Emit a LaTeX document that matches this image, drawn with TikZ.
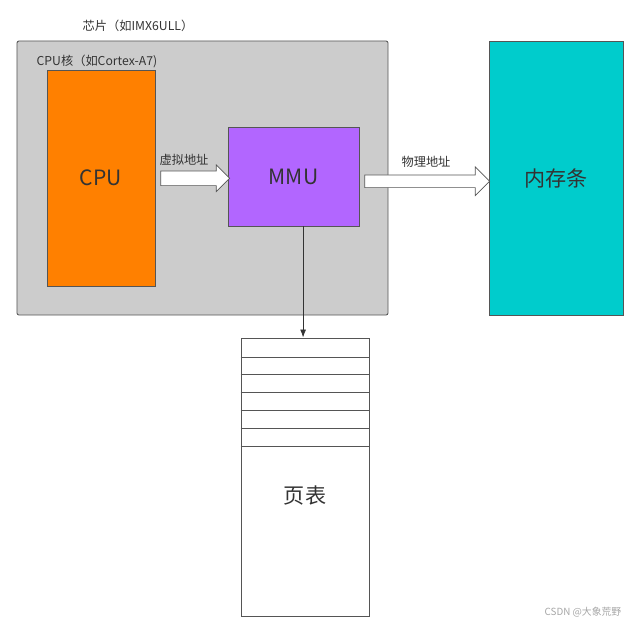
\documentclass[tikz,border=0pt]{standalone}
\usepackage{fontspec}
\setmainfont{Noto Sans CJK SC}
\usepackage{tikz}
\usetikzlibrary{arrows.meta,shapes.arrows,calc}
\usepackage{xcolor}
\definecolor{chipgray}{HTML}{CCCCCC}
\definecolor{cpuorange}{HTML}{FF8000}
\definecolor{mmupurple}{HTML}{B266FF}
\definecolor{memteal}{HTML}{00CCCC}
\definecolor{edgegray}{HTML}{555555}
\definecolor{textgray}{HTML}{333333}

\begin{document}
\begin{tikzpicture}[x=0.025cm, y=-0.025cm,
      box/.style={draw=edgegray, line width=0.6pt, inner sep=0pt, text=textgray,
                  font=\fontsize{15}{18}\selectfont},
      lbl/.style={text=textgray, inner sep=0pt, font=\fontsize{8.7}{10}\selectfont},
      fat/.style={single arrow, draw=edgegray, fill=white, line width=0.5pt,
                  inner sep=0pt, single arrow tip angle=90},
      arr/.style={-{Latex[length=2mm,width=1.5mm]}, line width=0.6pt, draw=textgray},
      row/.style={draw=edgegray, line width=0.6pt}
    ]
    \useasboundingbox (0,0) rectangle (635,625);

    \node[box, fill=chipgray, rounded corners=1.5pt, minimum width=9.275cm, minimum height=6.85cm] (chip) at (202.5,178) {};
    \node[box, fill=cpuorange, minimum width=2.7cm, minimum height=5.4cm] (cpu) at (101,178) {CPU};
    \node[box, fill=mmupurple, minimum width=3.275cm, minimum height=2.475cm] (mmu) at (293.5,176.5) {MMU};
    \node[box, fill=memteal, minimum width=3.35cm, minimum height=6.85cm] (mem) at (556,178) {内存条};
    \node[box, fill=white, minimum width=3.2cm, minimum height=6.95cm] (pt) at (305,477) {};
    \node[box, draw=none] (ptlbl) at (305,496) {页表};

    \node[lbl] (chiplbl) at (138,26) {芯片（如IMX6ULL）};
    \node[lbl] (corelbl) at (97,61) {CPU核（如Cortex-A7)};

    % virtual / physical address
    \node[fat, text height=0.175cm, text depth=0.175cm, minimum height=1.725cm,
          minimum width=0.65cm, single arrow head extend=0.15cm]
      (va) at ($(cpu.east)!0.5!(mmu.west)+(0,1)$) {};
    \node[fat, text height=0.15cm, text depth=0.15cm, minimum height=3.125cm,
          minimum width=0.7cm, single arrow head extend=0.2cm]
      (pa) at ($(mmu.east)!0.5!(mem.west)+(0,4)$) {};
    \node[lbl] (valbl) at (184,160) {虚拟地址};
    \node[lbl] (palbl) at (426,162) {物理地址};

    % page table lookup
    \draw[arr] ([xshift=0.24cm]mmu.south) -- ([xshift=0.24cm]mmu.south |- pt.north);
    \foreach \y in {357,374,392,410,428,446}
      \draw[row] (pt.west |- 0,\y) -- (pt.east |- 0,\y);

    \node[lbl, text=gray!70, font=\fontsize{7}{8}\selectfont] (mark) at (583,612) {CSDN @大象荒野};
  \end{tikzpicture}
\end{document}
